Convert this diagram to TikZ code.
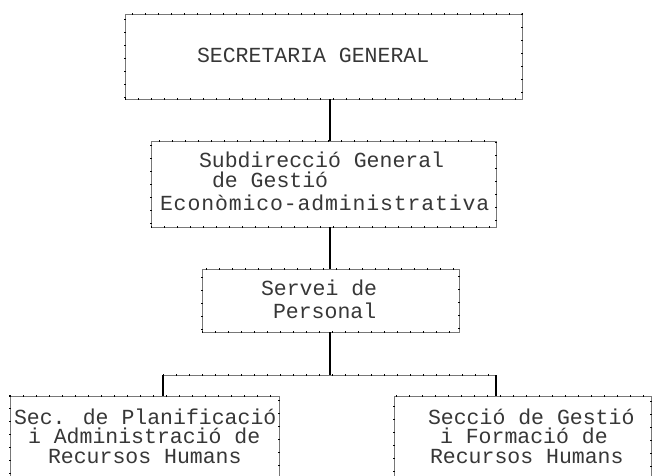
\documentclass[tikz,border=0pt]{standalone}
\usepackage{fontspec}
\newfontfamily\plotfont{Liberation Mono}
\definecolor{linegray}{RGB}{120,120,120}
\definecolor{ink}{RGB}{55,55,55}
\tikzset{
  boxnode/.style={rectangle, inner sep=0pt, outer sep=0pt, anchor=north west,
    draw=linegray, line width=0.9pt,
    postaction={draw=black, line width=1.8pt, dash pattern=on 1.2pt off 11.8pt}},
  txt/.style={inner sep=0pt, outer sep=0pt, anchor=base west, text=ink,
    text height=13pt, text depth=2pt,
    font=\plotfont\fontsize{21.5}{20}\selectfont},
  conn/.style={draw=black, line width=1.4pt},
  tickconn/.style={draw=linegray, line width=0.9pt,
    postaction={draw=black, line width=1.8pt, dash pattern=on 1.2pt off 11.8pt}}
}
\begin{document}
\begin{tikzpicture}[x=1pt, y=-1pt]
\useasboundingbox (0,0) rectangle (656,475);
\clip (0,0) rectangle (656,475);
\fill[white] (0,0) rectangle (656,475);
% boxes
\node[boxnode, minimum width=397pt, minimum height=85pt] (b1) at (125,14) {};
\node[boxnode, minimum width=345pt, minimum height=86pt] (b2) at (151,141) {};
\node[boxnode, minimum width=257pt, minimum height=63pt] (b3) at (202,269) {};
\node[boxnode, minimum width=269pt, minimum height=100pt] (b4) at (10,396) {};
\node[boxnode, minimum width=257pt, minimum height=100pt] (b5) at (394,396) {};
% texts
\node[txt] (t1) at (197,62) {SECRETARIA GENERAL};
\node[txt] (t2a) at (199,167) {Subdirecció General};
\node[txt] (t2b) at (212,187) {de Gestió};
\node[txt] (t2c) at (160,210) {\addfontfeature{LetterSpace=4}Econòmico-administrativa};
\node[txt] (t3a) at (261,295) {Servei de};
\node[txt] (t3b) at (273,318) {Personal};
\node[txt] (t4a) at (14,424) {Sec. de Planificació};
\node[txt] (t4b) at (28,443) {i Administració de};
\node[txt] (t4c) at (48,463) {Recursos Humans};
\node[txt] (t5a) at (428,424) {Secció de Gestió};
\node[txt] (t5b) at (440,443) {i Formació de};
\node[txt] (t5c) at (430,463) {Recursos Humans};
% connectors
\coordinate (j) at (330,375);
\coordinate (jl) at (163,375);
\coordinate (jr) at (496,375);
\draw[conn] (b1.south -| j) -- (b2.north -| j);
\draw[conn] (b2.south -| j) -- (b3.north -| j);
\draw[conn] (b3.south -| j) -- (j);
\draw[tickconn] (jl) -- (jr);
\draw[conn] (jl) -- (b4.north -| jl);
\draw[conn] (jr) -- (b5.north -| jr);
\end{tikzpicture}
\end{document}
